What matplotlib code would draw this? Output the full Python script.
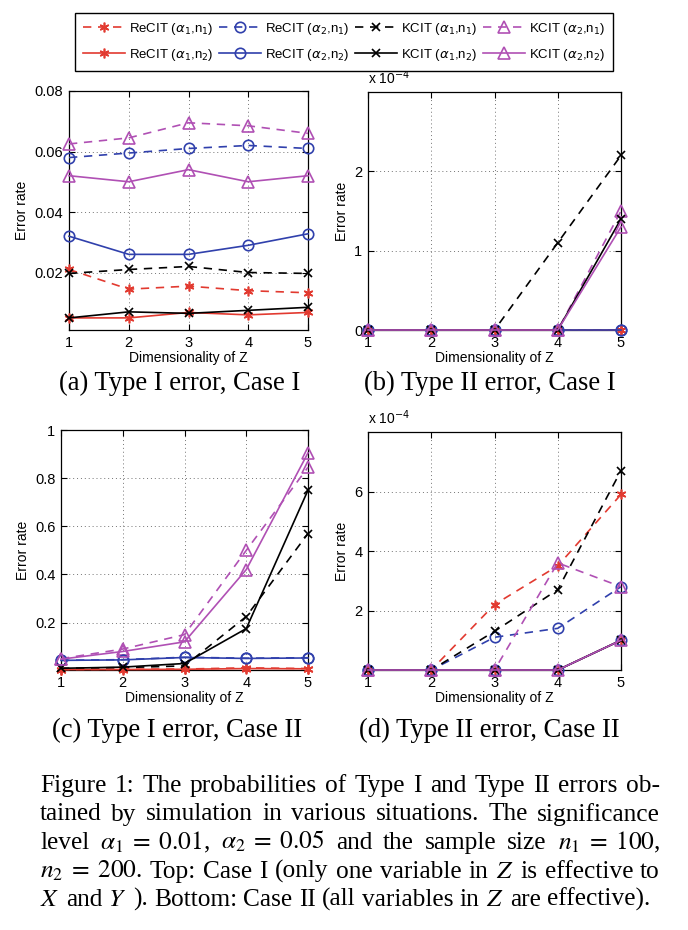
import re
import matplotlib
matplotlib.use("Agg")
import matplotlib.pyplot as plt
from matplotlib.ticker import FuncFormatter

plt.rcParams['font.family'] = ['Liberation Sans', 'DejaVu Sans']
plt.rcParams['mathtext.fontset'] = 'stix'

# --- data -------------------------------------------------------------
dims = [1, 2, 3, 4, 5]

series_labels = [
    r'ReCIT ($\alpha_1$,n$_1$)', r'ReCIT ($\alpha_2$,n$_1$)',
    r'KCIT ($\alpha_1$,n$_1$)', r'KCIT ($\alpha_2$,n$_1$)',
    r'ReCIT ($\alpha_1$,n$_2$)', r'ReCIT ($\alpha_2$,n$_2$)',
    r'KCIT ($\alpha_1$,n$_2$)', r'KCIT ($\alpha_2$,n$_2$)',
]

# rows follow series_labels
type1_case1 = [
    [0.021, 0.0145, 0.0155, 0.014, 0.0133],
    [0.058, 0.0595, 0.061, 0.062, 0.061],
    [0.0197, 0.021, 0.022, 0.020, 0.0197],
    [0.0625, 0.0645, 0.0695, 0.0685, 0.066],
    [0.005, 0.005, 0.0068, 0.006, 0.0068],
    [0.032, 0.026, 0.026, 0.029, 0.0328],
    [0.005, 0.007, 0.0065, 0.0075, 0.0085],
    [0.052, 0.050, 0.054, 0.050, 0.052],
]

type2_case1 = [
    [0, 0, 0, 0, 0],
    [0, 0, 0, 0, 0],
    [0, 0, 0, 1.1e-4, 2.2e-4],
    [0, 0, 0, 0, 1.5e-4],
    [0, 0, 0, 0, 0],
    [0, 0, 0, 0, 0],
    [0, 0, 0, 0, 1.4e-4],
    [0, 0, 0, 0, 1.3e-4],
]

type1_case2 = [
    [0.005, 0.006, 0.007, 0.012, 0.009],
    [0.043, 0.046, 0.056, 0.052, 0.054],
    [0.010, 0.013, 0.020, 0.225, 0.57],
    [0.050, 0.090, 0.150, 0.500, 0.845],
    [0.005, 0.005, 0.006, 0.009, 0.008],
    [0.043, 0.045, 0.055, 0.051, 0.053],
    [0.010, 0.015, 0.030, 0.175, 0.75],
    [0.048, 0.080, 0.120, 0.420, 0.905],
]

type2_case2 = [
    [0, 0, 2.2e-4, 3.5e-4, 5.9e-4],
    [0, 0, 1.1e-4, 1.4e-4, 2.8e-4],
    [0, 0, 1.3e-4, 2.7e-4, 6.7e-4],
    [0, 0, 0, 3.6e-4, 2.8e-4],
    [0, 0, 0, 0, 1.0e-4],
    [0, 0, 0, 0, 1.0e-4],
    [0, 0, 0, 0, 1.0e-4],
    [0, 0, 0, 0, 1.0e-4],
]

subcaptions = ['(a) Type I error, Case I', '(b) Type II error, Case I',
               '(c) Type I error, Case II', '(d) Type II error, Case II']

caption_lines = [
    'Figure 1: The probabilities of Type I and Type II errors ob-',
    'tained by simulation in various situations. The significance',
    r'level $\alpha_1\;=\;0.01$, $\alpha_2\;=\;0.05$ and the sample size $n_1\;=\;100$,',
    r'$n_2\;=\;200$. Top: Case I (only one variable in $Z$ is effective to',
    r'$X$ and $Y$ ). Bottom: Case II (all variables in $Z$ are effective).',
]

# --- styles -----------------------------------------------------------
RED = '#e23a30'
BLUE = '#3040ac'
BLACK = '#000000'
MAG = '#b050b4'
colors = [RED, BLUE, BLACK, MAG] * 2
markers = [(6, 2, 0), 'o', 'x', '^'] * 2
msizes = [7, 7.5, 5.5, 8.5] * 2
lstyles = [(0, (5, 4))] * 4 + ['-'] * 4

W, H = 688, 930
fig = plt.figure(figsize=(W / 100, H / 100), dpi=100)


def px_box(left, right, top, bottom):
    return [left / W, 1 - bottom / H, (right - left) / W, (bottom - top) / H]


boxes = [px_box(69, 308, 91, 330), px_box(368, 621, 92, 330),
         px_box(61, 308, 430, 670), px_box(368, 621, 432, 670)]
panels = [type1_case1, type2_case1, type1_case2, type2_case2]
axes = []

for box, data in zip(boxes, panels):
    ax = fig.add_axes(box)
    for i, vals in enumerate(data):
        ax.plot(dims, vals, color=colors[i], linestyle=lstyles[i], lw=1.2,
                marker=markers[i], ms=msizes[i], mfc='none', mec=colors[i],
                mew=1.2, clip_on=False, zorder=3, label=series_labels[i])
    ax.set_xlim(1, 5)
    ax.set_xticks(dims)
    ax.grid(True, linestyle=(0, (1, 3)), color='0.45', lw=0.7)
    ax.tick_params(direction='in', top=True, right=True, length=4,
                   labelsize=10.5, pad=4)
    ax.set_xlabel('Dimensionality of Z', fontsize=10, labelpad=1)
    ax.set_ylabel('Error rate', fontsize=10)
    for s in ax.spines.values():
        s.set_linewidth(0.9)
    axes.append(ax)

axes[0].set_ylim(0.001, 0.08)
axes[0].set_yticks([0.02, 0.04, 0.06, 0.08])
axes[0].set_yticklabels(['0.02', '0.04', '0.06', '0.08'])

axes[1].set_ylim(0, 3e-4)
axes[1].set_yticks([0, 1e-4, 2e-4])

axes[2].set_ylim(0.003, 1)
axes[2].set_yticks([0.2, 0.4, 0.6, 0.8, 1.0])
axes[2].set_yticklabels(['0.2', '0.4', '0.6', '0.8', '1'])

axes[3].set_ylim(0, 8e-4)
axes[3].set_yticks([2e-4, 4e-4, 6e-4])

sci = FuncFormatter(lambda v, p: '%g' % round(v * 1e4, 6))
for ax in (axes[1], axes[3]):
    ax.yaxis.set_major_formatter(sci)
    ax.text(0.0, 1.02, r'x 10$^{-4}$', transform=ax.transAxes, fontsize=10,
            ha='left', va='bottom', math_fontfamily='dejavusans')

# legend box across the top (matplotlib fills column by column)
handles, labels = axes[0].get_legend_handles_labels()
order = [0, 4, 1, 5, 2, 6, 3, 7]
leg = fig.legend([handles[i] for i in order], [labels[i] for i in order],
                 ncol=4, loc='upper left',
                 bbox_to_anchor=(75 / W, 1 - 70 / H, 538 / W, 57 / H),
                 mode='expand', fancybox=False, edgecolor='black',
                 framealpha=1, fontsize=9.5, handlelength=3.2,
                 handletextpad=0.3, columnspacing=0.6, borderpad=0.6,
                 labelspacing=0.75, borderaxespad=0)
leg.get_frame().set_linewidth(1.0)
for t in leg.get_texts():
    t.set_math_fontfamily('dejavusans')

# sub captions
serif = ['Liberation Serif', 'DejaVu Serif']
sub_pos = [(180, 383), (490, 383), (177, 730), (489, 730)]
for (x, y), txt in zip(sub_pos, subcaptions):
    fig.text(x / W, 1 - y / H, txt, family=serif, fontsize=19.2,
             ha='center', va='center')

# justified caption
renderer = fig.canvas.get_renderer()
cap_left, cap_right = 40, 660
cap_base = [792, 820.5, 849, 877.5, 906]
for k, line in enumerate(caption_lines):
    words = re.findall(r'(?:\$[^$]*\$|[^\s$])+', line)
    objs = [fig.text(0, 1 - cap_base[k] / H, w, family=serif, fontsize=18.3,
                     ha='left', va='baseline') for w in words]
    widths = [o.get_window_extent(renderer).width for o in objs]
    if k < len(caption_lines) - 1:
        gap = (cap_right - cap_left - sum(widths)) / (len(words) - 1)
    else:
        gap = objs[0].get_fontsize() * 100 / 72 * 0.25
    x = cap_left
    for o, w in zip(objs, widths):
        o.set_x(x / W)
        x += w + gap

fig.savefig('out.png', dpi=100)
